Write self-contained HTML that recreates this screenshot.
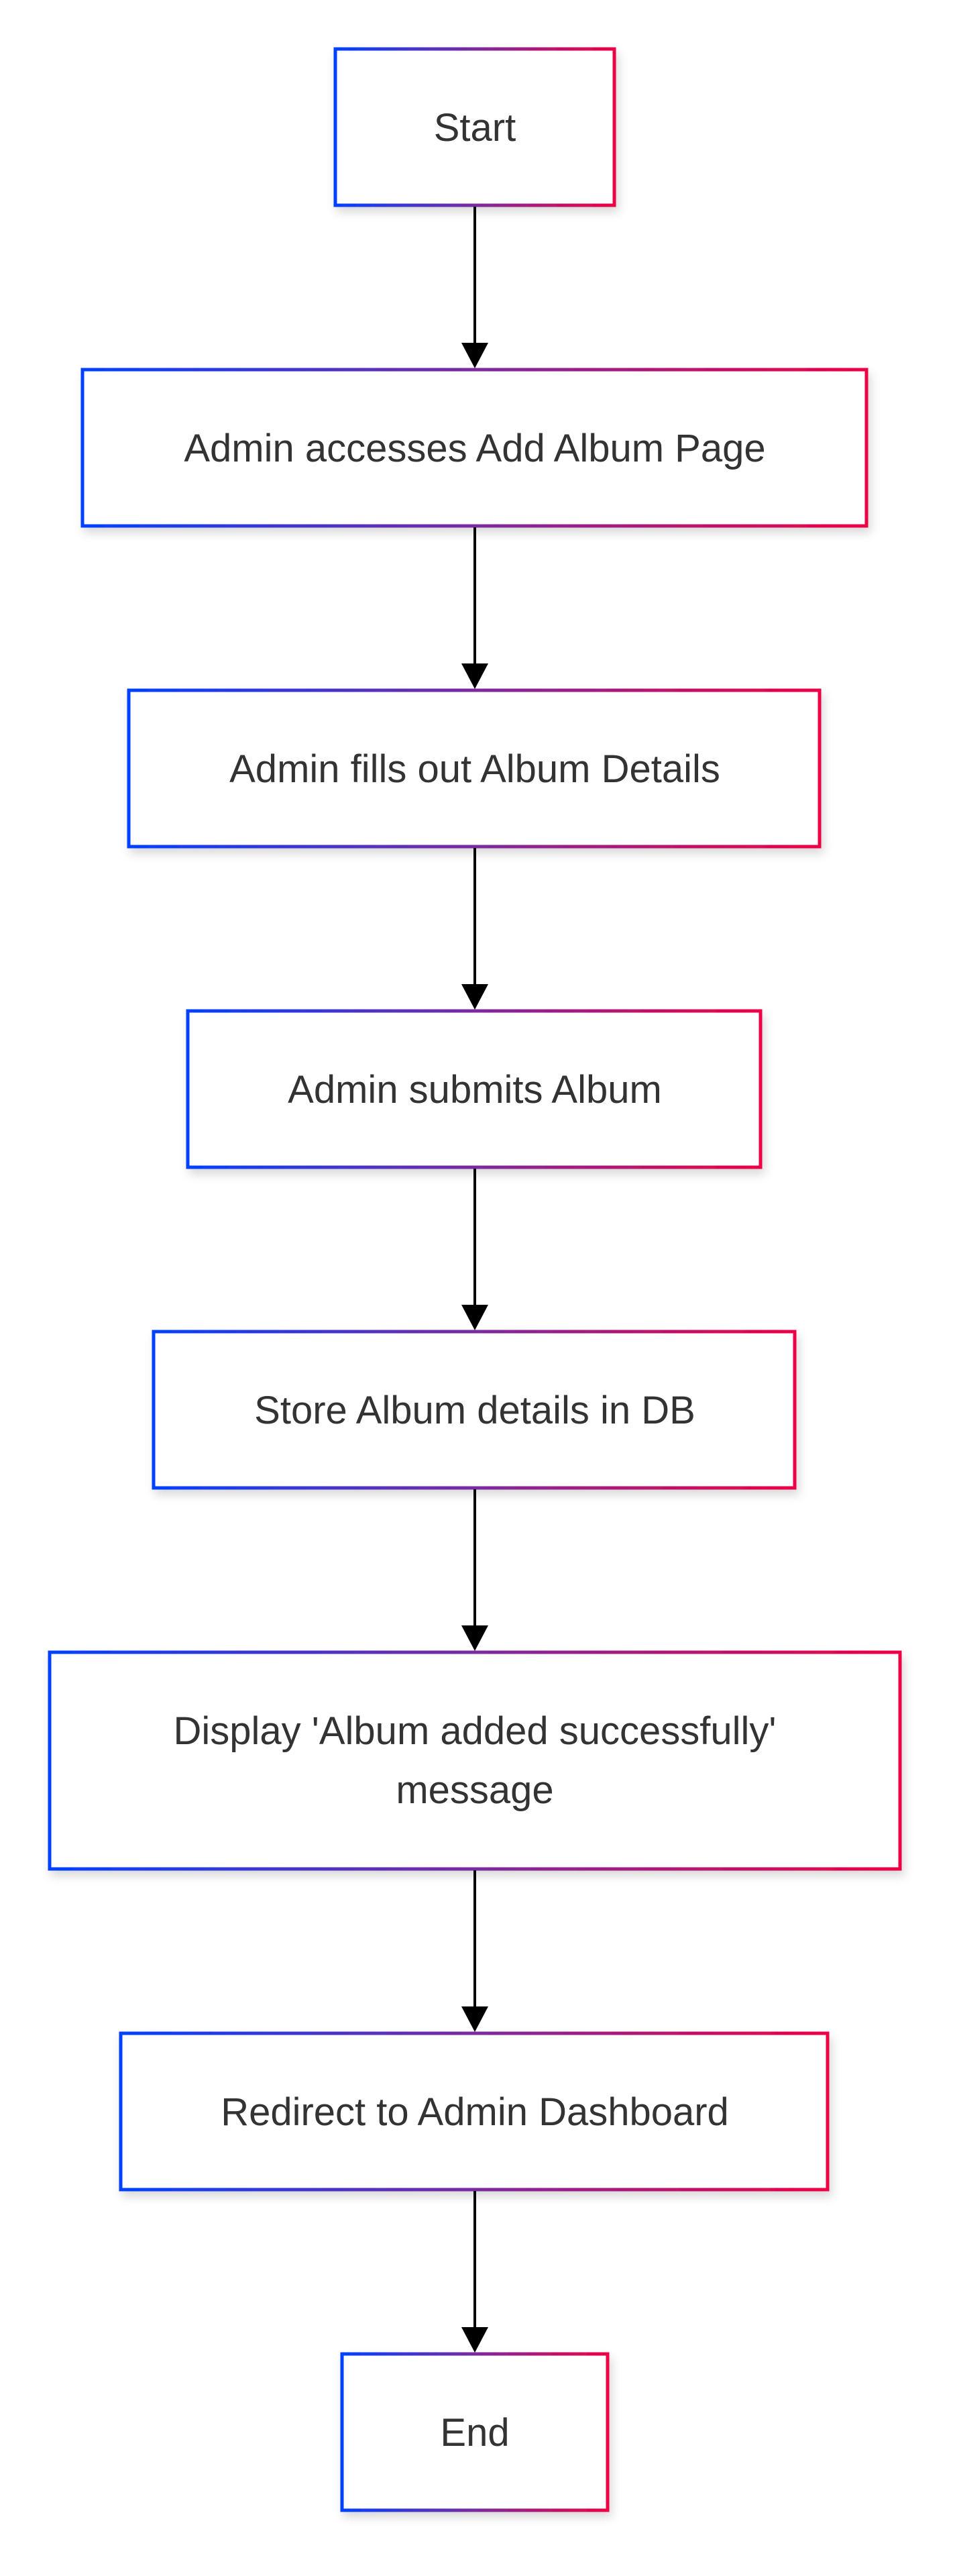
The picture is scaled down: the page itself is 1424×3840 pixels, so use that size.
<!DOCTYPE html>
<html><head><meta charset="utf-8"><style>
html,body{margin:0;padding:0;background:#fff;}
svg{display:block;}
text{font-family:"Liberation Sans",Arial,sans-serif;font-size:58px;fill:#333;text-anchor:middle;}
</style></head><body>
<svg width="1424" height="3840" viewBox="0 0 1424 3840" xmlns="http://www.w3.org/2000/svg">
<defs>
<linearGradient id="g" x1="0" y1="0" x2="1" y2="0">
<stop offset="0" stop-color="#0040ff"/><stop offset="0.5" stop-color="#7a2aa0"/><stop offset="1" stop-color="#ee0044"/>
</linearGradient>
<filter id="s" x="-10%" y="-10%" width="120%" height="130%"><feDropShadow dx="4" dy="8" stdDeviation="7" flood-color="#000" flood-opacity="0.15"/></filter>
</defs>
<g fill="#fff" stroke="url(#g)" stroke-width="5" filter="url(#s)">
<rect x="500" y="73" width="416" height="233"/>
<rect x="123" y="551" width="1169" height="233"/>
<rect x="192" y="1029" width="1030" height="233"/>
<rect x="280" y="1507" width="854" height="233"/>
<rect x="229" y="1985" width="956" height="233"/>
<rect x="74" y="2463" width="1268" height="323"/>
<rect x="180" y="3031" width="1054" height="233"/>
<rect x="510" y="3509" width="396" height="233"/>
</g>
<g stroke="#000" stroke-width="4">
<line x1="708" y1="308" x2="708" y2="513"/>
<line x1="708" y1="786" x2="708" y2="991"/>
<line x1="708" y1="1264" x2="708" y2="1469"/>
<line x1="708" y1="1742" x2="708" y2="1947"/>
<line x1="708" y1="2220" x2="708" y2="2425"/>
<line x1="708" y1="2788" x2="708" y2="2993"/>
<line x1="708" y1="3266" x2="708" y2="3471"/>
</g>
<g fill="#000">
<polygon points="688,511 728,511 708,549"/>
<polygon points="688,989 728,989 708,1027"/>
<polygon points="688,1467 728,1467 708,1505"/>
<polygon points="688,1945 728,1945 708,1983"/>
<polygon points="688,2423 728,2423 708,2461"/>
<polygon points="688,2991 728,2991 708,3029"/>
<polygon points="688,3469 728,3469 708,3507"/>
</g>
<text x="708" y="210">Start</text>
<text x="708" y="688">Admin accesses Add Album Page</text>
<text x="708" y="1166">Admin fills out Album Details</text>
<text x="708" y="1644">Admin submits Album</text>
<text x="708" y="2122">Store Album details in DB</text>
<text x="708" y="2600">Display 'Album added successfully'</text>
<text x="708" y="2688">message</text>
<text x="708" y="3168">Redirect to Admin Dashboard</text>
<text x="708" y="3646">End</text>
</svg>
</body></html>
